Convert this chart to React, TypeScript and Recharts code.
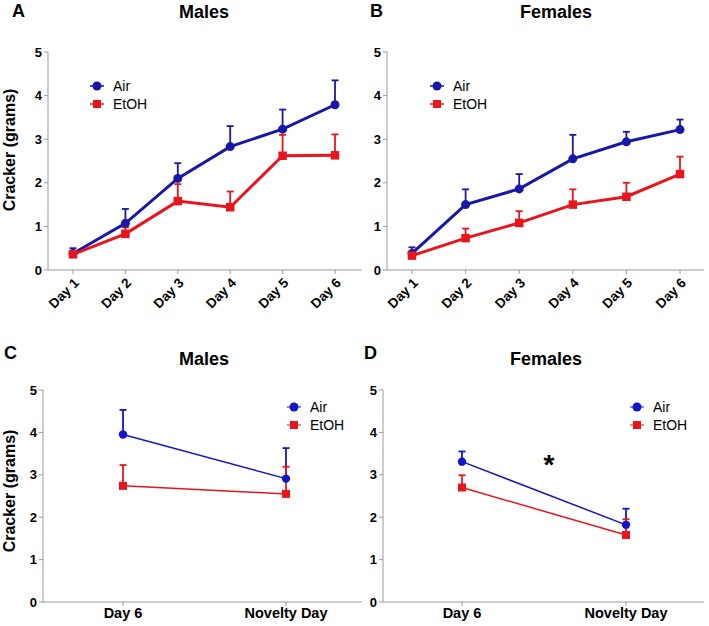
import { LineChart, Line, XAxis, YAxis, ErrorBar, Legend, Label } from 'recharts'

const FONT = '"Liberation Sans", Arial, Helvetica, sans-serif'
const DARK_BLUE = '#1818a8'
const BLUE = '#1414c8'
const RED = '#e8161c'
const AXIS = '#9a9a9a'

// A / B: daily intake
const days = ['Day 1', 'Day 2', 'Day 3', 'Day 4', 'Day 5', 'Day 6']
const maleAir = [0.38, 1.07, 2.1, 2.83, 3.23, 3.79]
const maleAirSem = [0.12, 0.33, 0.35, 0.47, 0.45, 0.56]
const maleEtoh = [0.36, 0.83, 1.58, 1.44, 2.62, 2.63]
const maleEtohSem = [0.08, 0.15, 0.39, 0.36, 0.48, 0.48]
const femaleAir = [0.38, 1.5, 1.86, 2.55, 2.94, 3.22]
const femaleAirSem = [0.14, 0.35, 0.34, 0.55, 0.23, 0.23]
const femaleEtoh = [0.33, 0.73, 1.08, 1.5, 1.68, 2.2]
const femaleEtohSem = [0.06, 0.22, 0.27, 0.35, 0.32, 0.4]

// C / D: novelty test
const sessions = ['Day 6', 'Novelty Day']
const novMaleAir = [3.95, 2.91]
const novMaleAirSem = [0.58, 0.72]
const novMaleEtoh = [2.74, 2.55]
const novMaleEtohSem = [0.49, 0.64]
const novFemaleAir = [3.31, 1.82]
const novFemaleAirSem = [0.24, 0.38]
const novFemaleEtoh = [2.7, 1.58]
const novFemaleEtohSem = [0.29, 0.37]

const yTicks = [0, 1, 2, 3, 4, 5]

function rows(cats: string[], air: number[], airSem: number[], etoh: number[], etohSem: number[]) {
  return cats.map((c, i) => ({
    cat: c,
    air: air[i],
    airErr: [0, airSem[i]],
    etoh: etoh[i],
    etohErr: [0, etohSem[i]],
  }))
}

function SquareDot(props: any) {
  const { cx, cy, fill, index, size } = props
  if (cx == null || cy == null) return null
  return <rect key={`sq-${index}`} x={cx - size / 2} y={cy - size / 2} width={size} height={size} fill={fill} />
}

function LegendContent({ payload, lineW }: any) {
  return (
    <div style={{ fontFamily: FONT, fontSize: 14, color: '#000' }}>
      {(payload || []).map((p: any) => (
        <div key={p.value} style={{ display: 'flex', alignItems: 'center', height: 18 }}>
          <svg width={16} height={12} style={{ display: 'block' }}>
            <line x1={1} y1={6} x2={15} y2={6} stroke={p.color} strokeWidth={lineW} />
            {p.dataKey === 'air'
              ? <circle cx={8} cy={6} r={4.5} fill={p.color} />
              : <rect x={4} y={2} width={8} height={8} fill={p.color} />}
          </svg>
          <span style={{ marginLeft: 8 }}>{p.value}</span>
        </div>
      ))}
    </div>
  )
}

function YTitle({ viewBox, shift }: any) {
  if (!viewBox) return null
  const cy = viewBox.y + viewBox.height / 2 + shift
  return (
    <text
      x={9}
      y={cy}
      transform={`rotate(-90, 9, ${cy})`}
      textAnchor="middle"
      dominantBaseline="central"
      style={{ fontFamily: FONT, fontSize: 16, fontWeight: 'bold', fill: '#000' }}
    >
      Cracker (grams)
    </text>
  )
}

interface PanelProps {
  data: any[]
  width: number
  height: number
  top: number
  right: number
  yWidth: number
  xHeight: number
  padL: number
  padR: number
  rotate: boolean
  thick: boolean
  showTitle: boolean
  titleShift: number
  legendPos: { left: number; top: number }
}

function Panel(p: PanelProps) {
  const airColor = p.thick ? DARK_BLUE : BLUE
  const lw = p.thick ? 3 : 1.5
  const dotR = p.thick ? 4.5 : 4.2
  const sq = p.thick ? 8.5 : 8
  return (
    <LineChart
      width={p.width}
      height={p.height}
      data={p.data}
      margin={{ top: p.top, right: p.right, left: 0, bottom: 0 }}
      style={{ fontFamily: FONT }}
    >
      <XAxis
        dataKey="cat"
        height={p.xHeight}
        padding={{ left: p.padL, right: p.padR }}
        stroke={AXIS}
        tickSize={4}
        tickMargin={p.rotate ? 3 : 2}
        interval={0}
        angle={p.rotate ? -45 : 0}
        textAnchor={p.rotate ? 'end' : 'middle'}
        tick={{ fill: '#000', fontSize: p.rotate ? 13.5 : 14.5, fontWeight: 'bold', fontFamily: FONT }}
      />
      <YAxis
        width={p.yWidth}
        domain={[0, 5]}
        ticks={yTicks}
        interval={0}
        stroke={AXIS}
        tickSize={4}
        tickMargin={2}
        tick={{ fill: '#000', fontSize: 13, fontWeight: 'bold', fontFamily: FONT }}
      >
        {p.showTitle && <Label content={(lp: any) => <YTitle {...lp} shift={p.titleShift} />} />}
      </YAxis>
      <Legend
        layout="vertical"
        align="center"
        verticalAlign="middle"
        wrapperStyle={{ left: p.legendPos.left, top: p.legendPos.top, width: 90 }}
        content={(lp: any) => <LegendContent {...lp} lineW={p.thick ? 1.5 : 1} />}
      />
      <Line
        dataKey="air"
        name="Air"
        stroke={airColor}
        strokeWidth={lw}
        fill={airColor}
        dot={{ r: dotR, fill: airColor, stroke: airColor, strokeWidth: 0 }}
        activeDot={false}
        isAnimationActive={false}
      >
        <ErrorBar dataKey="airErr" direction="y" width={3.5} stroke={airColor} strokeWidth={1.8} />
      </Line>
      <Line
        dataKey="etoh"
        name="EtOH"
        stroke={RED}
        strokeWidth={lw}
        fill={RED}
        dot={(dp: any) => <SquareDot {...dp} fill={RED} size={sq} />}
        activeDot={false}
        isAnimationActive={false}
      >
        <ErrorBar dataKey="etohErr" direction="y" width={3.5} stroke={RED} strokeWidth={1.8} />
      </Line>
    </LineChart>
  )
}

const titleStyle = { fontFamily: FONT, fontWeight: 'bold' as const, fill: '#000' }

export default function App() {
  const dataA = rows(days, maleAir, maleAirSem, maleEtoh, maleEtohSem)
  const dataB = rows(days, femaleAir, femaleAirSem, femaleEtoh, femaleEtohSem)
  const dataC = rows(sessions, novMaleAir, novMaleAirSem, novMaleEtoh, novMaleEtohSem)
  const dataD = rows(sessions, novFemaleAir, novFemaleAirSem, novFemaleEtoh, novFemaleEtohSem)

  return (
    <div style={{ position: 'absolute', left: 0, top: 0, width: 709, height: 626, background: '#fff', overflow: 'hidden' }}>
      <div style={{ position: 'absolute', left: 0, top: 0 }}>
        <Panel data={dataA} width={370} height={320} top={52} right={8} yWidth={48} xHeight={50}
          padL={25} padR={27} rotate thick showTitle titleShift={-11} legendPos={{ left: 89, top: 77 }} />
      </div>
      <div style={{ position: 'absolute', left: 354, top: 0 }}>
        <Panel data={dataB} width={354} height={320} top={52} right={4} yWidth={33} xHeight={50}
          padL={25} padR={24} rotate thick showTitle={false} titleShift={0} legendPos={{ left: 75, top: 77 }} />
      </div>
      <div style={{ position: 'absolute', left: 0, top: 320 }}>
        <Panel data={dataC} width={370} height={306} top={70} right={8} yWidth={43} xHeight={24}
          padL={80} padR={76} rotate={false} thick={false} showTitle titleShift={-5} legendPos={{ left: 286, top: 78 }} />
      </div>
      <div style={{ position: 'absolute', left: 354, top: 320 }}>
        <Panel data={dataD} width={354} height={306} top={70} right={4} yWidth={29} xHeight={24}
          padL={79} padR={78} rotate={false} thick={false} showTitle={false} titleShift={0} legendPos={{ left: 275, top: 78 }} />
      </div>
      <svg width={709} height={626} style={{ position: 'absolute', left: 0, top: 0, pointerEvents: 'none' }}>
        <text x={12} y={17} style={{ ...titleStyle, fontSize: 18 }}>A</text>
        <text x={204} y={18} textAnchor="middle" style={{ ...titleStyle, fontSize: 18 }}>Males</text>
        <text x={370} y={17} style={{ ...titleStyle, fontSize: 18 }}>B</text>
        <text x={556} y={18} textAnchor="middle" style={{ ...titleStyle, fontSize: 18 }}>Females</text>
        <text x={4} y={359} style={{ ...titleStyle, fontSize: 18 }}>C</text>
        <text x={204} y={365} textAnchor="middle" style={{ ...titleStyle, fontSize: 18 }}>Males</text>
        <text x={364} y={359} style={{ ...titleStyle, fontSize: 18 }}>D</text>
        <text x={546} y={365} textAnchor="middle" style={{ ...titleStyle, fontSize: 18 }}>Females</text>
        <text x={549} y={474} textAnchor="middle" style={{ ...titleStyle, fontSize: 28 }}>*</text>
      </svg>
    </div>
  )
}
